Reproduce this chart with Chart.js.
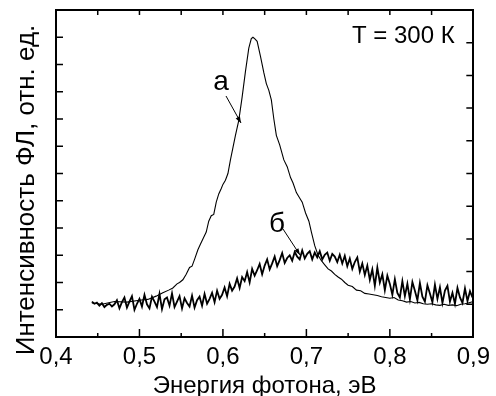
<!DOCTYPE html>
<html>
<head>
<meta charset="utf-8">
<script src="https://cdn.jsdelivr.net/npm/chart.js@4/dist/chart.umd.min.js"></script>
<style>
  html, body { margin: 0; padding: 0; background: #fff; }
  #wrap { width: 496px; height: 396px; }
</style>
</head>
<body>
<div id="wrap"><canvas id="plChart" width="496" height="396"></canvas></div>
<script>
// Curve "а" (thin line)
const aEnergy = [
  0.443, 0.455, 0.47, 0.485, 0.50, 0.51, 0.52, 0.528, 0.535, 0.54,
  0.545, 0.548, 0.552, 0.556, 0.56, 0.563, 0.566, 0.57, 0.573, 0.576,
  0.58, 0.583, 0.586, 0.589, 0.592, 0.595, 0.598, 0.60, 0.603, 0.606,
  0.609, 0.612, 0.615, 0.619, 0.623, 0.627, 0.631, 0.634, 0.636, 0.638,
  0.641, 0.645, 0.649, 0.652, 0.655, 0.658, 0.661, 0.664, 0.668, 0.673,
  0.677, 0.681, 0.684, 0.688, 0.691, 0.695, 0.699, 0.703, 0.706, 0.71,
  0.714, 0.718, 0.722, 0.726, 0.73, 0.734, 0.738, 0.742, 0.746, 0.75,
  0.755, 0.76, 0.765, 0.77, 0.775, 0.78, 0.785, 0.79, 0.795, 0.80,
  0.805, 0.81, 0.815, 0.82, 0.825, 0.83, 0.835, 0.84, 0.845, 0.85,
  0.855, 0.86, 0.865, 0.87, 0.875, 0.88, 0.885, 0.89, 0.895, 0.90
];
const aIntensity = [
  1.25, 1.2, 1.3, 1.28, 1.35, 1.38, 1.5, 1.62, 1.72, 1.8,
  1.95, 2.0, 2.1, 2.3, 2.55, 2.6, 2.85, 3.2, 3.4, 3.6,
  3.85, 4.25, 4.45, 4.5, 4.95, 5.25, 5.45, 5.6, 5.75, 6.0,
  6.5, 6.95, 7.4, 7.95, 8.8, 9.75, 10.6, 10.95, 11.0, 10.95,
  10.85, 10.3, 9.7, 9.3, 9.05, 8.7, 8.0, 7.4, 7.05, 6.5,
  6.25, 5.85, 5.65, 5.3, 5.15, 4.95, 4.55, 4.25, 3.85, 3.35,
  3.0, 2.8, 2.65, 2.5, 2.42, 2.3, 2.2, 2.12, 2.0, 1.9,
  1.85, 1.72, 1.7, 1.6, 1.58, 1.55, 1.52, 1.48, 1.45, 1.42,
  1.45, 1.36, 1.33, 1.28, 1.3, 1.25, 1.27, 1.22, 1.2, 1.22,
  1.18, 1.16, 1.2, 1.16, 1.18, 1.15, 1.2, 1.22, 1.26, 1.3
];

// Curve "б" (noisy)
const bEnergy = [
  0.443, 0.446, 0.449, 0.452, 0.455, 0.458, 0.461, 0.464, 0.467, 0.470,
  0.473, 0.476, 0.479, 0.482, 0.485, 0.488, 0.491, 0.494, 0.497, 0.500,
  0.503, 0.506, 0.509, 0.512, 0.515, 0.518, 0.521, 0.524, 0.527, 0.530,
  0.533, 0.536, 0.539, 0.542, 0.545, 0.548, 0.551, 0.554, 0.557, 0.560,
  0.563, 0.566, 0.569, 0.572, 0.575, 0.578, 0.581, 0.584, 0.587, 0.590,
  0.593, 0.596, 0.599, 0.602, 0.605, 0.608, 0.611, 0.614, 0.617, 0.620,
  0.623, 0.626, 0.629, 0.632, 0.635, 0.638, 0.641, 0.644, 0.647, 0.650,
  0.653, 0.656, 0.659, 0.662, 0.665, 0.668, 0.671, 0.674, 0.677, 0.680,
  0.683, 0.686, 0.689, 0.692, 0.695, 0.698, 0.701, 0.704, 0.707, 0.710,
  0.713, 0.716, 0.719, 0.722, 0.725, 0.728, 0.731, 0.734, 0.737, 0.740,
  0.743, 0.746, 0.749, 0.752, 0.755, 0.758, 0.761, 0.764, 0.767, 0.770,
  0.773, 0.776, 0.779, 0.782, 0.785, 0.788, 0.791, 0.794, 0.797, 0.800,
  0.803, 0.806, 0.809, 0.812, 0.815, 0.818, 0.821, 0.824, 0.827, 0.830,
  0.833, 0.836, 0.839, 0.842, 0.845, 0.848, 0.851, 0.854, 0.857, 0.860,
  0.863, 0.866, 0.869, 0.872, 0.875, 0.878, 0.881, 0.884, 0.887, 0.890,
  0.893, 0.896, 0.899
];
const bIntensity = [
  1.30, 1.22, 1.26, 1.15, 1.24, 1.10, 1.18, 1.22, 1.12, 1.20,
  1.35, 1.05, 1.28, 1.45, 1.08, 1.30, 1.50, 1.00, 1.22, 1.40,
  1.12, 1.55, 1.20, 1.05, 1.48, 1.30, 1.10, 1.58, 1.02, 1.38,
  1.45, 1.15, 1.60, 1.10, 1.30, 1.50, 1.05, 1.42, 1.25, 1.12,
  1.52, 1.08, 1.35, 1.48, 1.15, 1.58, 1.22, 1.40, 1.62, 1.28,
  1.70, 1.40, 1.55, 1.82, 1.50, 1.95, 1.70, 1.85, 2.15, 1.80,
  2.20, 2.05, 2.38, 2.00, 2.50, 2.25, 2.45, 2.68, 2.30, 2.62,
  2.85, 2.48, 2.70, 2.95, 2.60, 2.82, 3.08, 2.72, 2.90, 3.00,
  2.80, 3.12, 2.95, 2.85, 3.18, 2.88, 3.05, 3.15, 2.85, 3.10,
  2.92, 3.15, 2.85, 3.02, 3.10, 2.80, 3.05, 2.95, 2.75, 3.02,
  2.70, 2.98, 2.60, 2.88, 2.50, 2.75, 2.92, 2.40, 2.70, 2.28,
  2.62, 2.10, 2.48, 1.88, 2.55, 2.00, 2.30, 1.72, 2.25, 1.95,
  1.55, 2.12, 1.62, 1.45, 2.05, 1.50, 1.95, 1.38, 2.02, 1.70,
  1.35, 1.98, 1.48, 1.30, 1.90, 1.60, 1.28, 1.92, 1.40, 1.82,
  1.25, 1.70, 1.88, 1.30, 1.62, 1.22, 1.80, 1.45, 1.25, 1.78,
  1.32, 1.68, 1.45
];

const FONT = "'Liberation Sans', Arial, sans-serif";
Chart.defaults.font.family = FONT;
Chart.defaults.color = '#000';

function toPoints(xs, ys) {
  return xs.map((x, i) => ({ x: x, y: ys[i] }));
}

function isMajor(v) {
  return Math.abs(v * 10 - Math.round(v * 10)) < 1e-6;
}

// inward tick marks on all four sides + annotations
const framePlugin = {
  id: 'frame',
  afterDraw(chart) {
    const ctx = chart.ctx;
    const area = chart.chartArea;
    const s = chart.scales;
    ctx.save();
    ctx.strokeStyle = '#000';
    ctx.lineWidth = 1.5;
    ctx.beginPath();
    s.x.ticks.forEach(t => {
      if (t.value <= 0.4001 || t.value >= 0.8999) return;
      const px = s.x.getPixelForValue(t.value);
      const len = isMajor(t.value) ? 8 : 4;
      ctx.moveTo(px, area.bottom);
      ctx.lineTo(px, area.bottom - len);
    });
    s.x2.ticks.forEach(t => {
      if (t.value <= 0.4001 || t.value >= 0.8999) return;
      const px = s.x2.getPixelForValue(t.value);
      ctx.moveTo(px, area.top);
      ctx.lineTo(px, area.top + 5);
    });
    s.y.ticks.forEach(t => {
      if (t.value <= 0 || t.value >= 12) return;
      const py = s.y.getPixelForValue(t.value);
      ctx.moveTo(area.left, py);
      ctx.lineTo(area.left + 7, py);
    });
    s.y2.ticks.forEach(t => {
      if (t.value <= 0 || t.value >= 10) return;
      const py = s.y2.getPixelForValue(t.value);
      ctx.moveTo(area.right, py);
      ctx.lineTo(area.right - 7, py);
    });
    ctx.stroke();

    // labels
    ctx.fillStyle = '#000';
    ctx.textBaseline = 'alphabetic';
    ctx.textAlign = 'left';
    ctx.font = '24px ' + FONT;
    ctx.fillText('T = 300 К', 352, 43);
    ctx.textAlign = 'center';
    ctx.font = '28px ' + FONT;
    ctx.fillText('а', 221, 90);
    ctx.fillText('б', 277, 232);

    // arrows
    drawArrow(ctx, 226, 96, 241, 123);
    drawArrow(ctx, 283, 229, 300, 255);

    // y title
    ctx.save();
    ctx.translate(27, 190);
    ctx.rotate(-Math.PI / 2);
    ctx.font = '26px ' + FONT;
    ctx.textAlign = 'center';
    ctx.textBaseline = 'middle';
    ctx.fillText('Интенсивность ФЛ, отн. ед.', 0, 0);
    ctx.restore();
    ctx.restore();
  }
};

function drawArrow(ctx, x1, y1, x2, y2) {
  const ang = Math.atan2(y2 - y1, x2 - x1);
  ctx.lineWidth = 1;
  ctx.beginPath();
  ctx.moveTo(x1, y1);
  ctx.lineTo(x2, y2);
  ctx.stroke();
  ctx.beginPath();
  ctx.moveTo(x2, y2);
  ctx.lineTo(x2 - 7 * Math.cos(ang - 0.35), y2 - 7 * Math.sin(ang - 0.35));
  ctx.lineTo(x2 - 7 * Math.cos(ang + 0.35), y2 - 7 * Math.sin(ang + 0.35));
  ctx.closePath();
  ctx.fill();
}

const border = { display: true, color: '#000', width: 2 };
const noGrid = { display: false, drawTicks: false };

new Chart(document.getElementById('plChart'), {
  type: 'line',
  data: {
    datasets: [
      {
        label: 'б',
        data: toPoints(bEnergy, bIntensity),
        borderColor: '#000',
        borderWidth: 1.8,
        pointRadius: 0,
        tension: 0,
        xAxisID: 'x',
        yAxisID: 'y'
      },
      {
        label: 'а',
        data: toPoints(aEnergy, aIntensity),
        borderColor: '#000',
        borderWidth: 1.1,
        pointRadius: 0,
        tension: 0,
        xAxisID: 'x',
        yAxisID: 'y'
      }
    ]
  },
  options: {
    responsive: false,
    devicePixelRatio: 1,
    animation: false,
    layout: { padding: 0 },
    plugins: { legend: { display: false }, tooltip: { enabled: false } },
    scales: {
      x: {
        type: 'linear',
        position: 'bottom',
        min: 0.4,
        max: 0.9,
        grid: noGrid,
        border: border,
        ticks: {
          stepSize: 0.05,
          autoSkip: false,
          maxRotation: 0,
          padding: 6,
          font: { size: 24 },
          callback: v => isMajor(v) ? (Math.round(v * 10) / 10).toFixed(1).replace('.', ',') : ''
        },
        title: {
          display: true,
          text: 'Энергия фотона, эВ',
          font: { size: 24, lineHeight: 1 },
          padding: { top: 0, bottom: -2 }
        },
        afterFit(scale) { scale.height = 59; }
      },
      x2: {
        type: 'linear',
        position: 'top',
        min: 0.4,
        max: 0.9,
        grid: noGrid,
        border: border,
        ticks: { display: false, stepSize: 0.05 },
        afterFit(scale) { scale.height = 10; }
      },
      y: {
        type: 'linear',
        position: 'left',
        min: 0,
        max: 12,
        grid: noGrid,
        border: border,
        ticks: { display: false, stepSize: 1 },
        afterFit(scale) { scale.width = 56; }
      },
      y2: {
        type: 'linear',
        position: 'right',
        min: 0,
        max: 10,
        grid: noGrid,
        border: border,
        ticks: { display: false, stepSize: 1 },
        afterFit(scale) { scale.width = 20; }
      }
    }
  },
  plugins: [framePlugin]
});
</script>
</body>
</html>
